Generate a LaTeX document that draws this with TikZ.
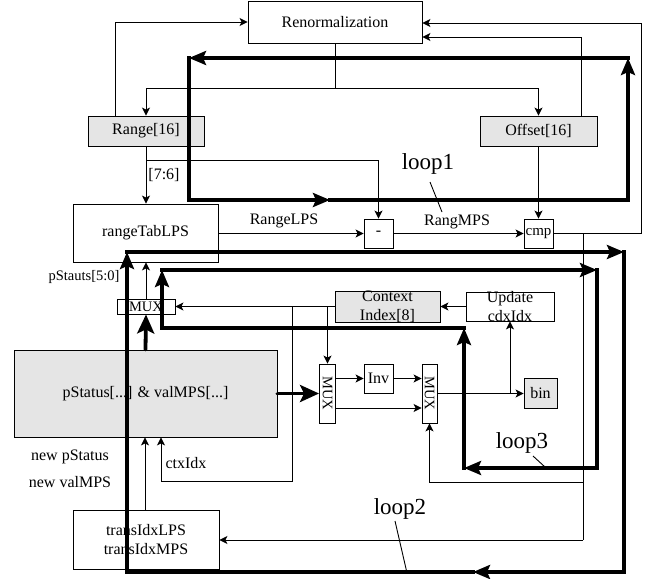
\documentclass[tikz,border=0pt]{standalone}
\usepackage{fontspec}
\setmainfont{Liberation Serif}
\usetikzlibrary{arrows.meta}
\begin{document}
\begin{tikzpicture}[x=1pt,y=-1pt,
  every node/.style={font=\fontsize{16pt}{19pt}\selectfont, inner sep=0pt},
  ln/.style={line width=0.9pt},
  arr/.style={ln, -{Stealth[length=8pt,width=8pt,inset=2pt]}},
  lp/.style={line width=3.8pt, line cap=rect},
  lparr/.style={lp, -{Stealth[length=17pt,width=14pt,inset=3pt]}},
  fatarr/.style={line width=3.8pt, line cap=round, -{Stealth[length=19pt,width=17pt,inset=4pt]}},
  box/.style={draw, line width=0.9pt, inner sep=0pt, align=center},
  gbox/.style={box, fill=gray!20},
  small/.style={font=\fontsize{14.5pt}{16pt}\selectfont},
  big/.style={font=\fontsize{23pt}{26pt}\selectfont}]
\useasboundingbox (0,0) rectangle (655,578);

% boxes
\node[box, minimum width=174pt, minimum height=42pt] (renorm) at (335,22) {Renormalization};
\node[gbox, minimum width=116pt, minimum height=30pt] (range) at (146,131) {Range[16]};
\node[gbox, minimum width=117pt, minimum height=30pt] (offset) at (538.5,131) {Offset[16]};
\node[box, minimum width=145pt, minimum height=58pt] (rtab) at (145.5,233) {rangeTabLPS};
\node[box, minimum width=29pt, minimum height=29pt] (minus) at (378.5,233.5) {-};
\node[box, minimum width=29pt, minimum height=29pt, font=\fontsize{15pt}{17pt}\selectfont] (cmp) at (538.5,233.5) {cmp};
\node[box, small, minimum width=58pt, minimum height=15pt] (mux0) at (146,306.5) {MUX};
\node[gbox, minimum width=105pt, minimum height=31pt] (ctx) at (387.5,306.5) {};
\node[align=center] (ctxt) at (387.5,306.5) {Context\\Index[8]};
\node[box, minimum width=88pt, minimum height=29pt] (upd) at (510,306.5) {};
\node[align=center] (updt) at (510,306.5) {Update\\cdxIdx};
\node[gbox, minimum width=263pt, minimum height=87pt] (pst) at (145.5,393.5) {pStatus[...] \& valMPS[...]};
\node[box, minimum width=16pt, minimum height=59pt] (mux1) at (327.5,393.5) {};
\node[small, rotate=-90] (mux1t) at (mux1) {MUX};
\node[box, minimum width=29pt, minimum height=29pt] (inv) at (378.5,378.5) {Inv};
\node[box, minimum width=15pt, minimum height=59pt] (mux2) at (429.5,393.5) {};
\node[small, rotate=-90] (mux2t) at (mux2) {MUX};
\node[gbox, minimum width=33pt, minimum height=30pt] (bin) at (540.5,393) {bin};
\node[box, minimum width=146pt, minimum height=59pt, align=center] (tidx) at (146,539.5) {transIdxLPS\\transIdxMPS};

% labels
\node (l76) at (164,175) {[7:6]};
\node (lrl) at (284,221) {RangeLPS};
\node (lrm) at (457,222) {RangMPS};
\node[small] (lps) at (84,277) {pStauts[5:0]};
\node (lnp) at (70,457) {new pStatus};
\node (lnv) at (70,482) {new valMPS};
\node (lctx) at (186,463) {ctxIdx};
\node[big] (lp1) at (428,164) {loop1};
\node[big] (lp3) at (522,443) {loop3};
\node[big] (lp2) at (400,509) {loop2};

% coordinates
\coordinate (j1) at (335,88);
\coordinate (j2) at (146,160);
\coordinate (j3) at (327.5,306.5);
\coordinate (j4) at (292,306.5);
\coordinate (j4b) at (161,481);
\coordinate (j5) at (510,393.5);
\coordinate (c641) at (641,233.5);
\coordinate (j6) at (583,233.5);
\coordinate (j6b) at (583,540);
\coordinate (j7) at (583,482);

% thin connectors
\draw[arr] ([xshift=-31pt]range.north) |- (renorm.west);
\draw[ln] (renorm.south) -- (j1);
\draw[arr] (j1) -| (range.north);
\draw[arr] (j1) -| (offset.north);
\draw[arr] ([xshift=42.5pt]offset.north) |- ([yshift=-15pt]renorm.east);
\draw[ln] (cmp.east) -- (c641);
\draw[arr] (c641) |- ([yshift=-1pt]renorm.east);
\draw[arr] (range.south) -- (range.south |- rtab.north);
\draw[arr] (j2) -| (minus.north);
\draw[arr] (offset.south) -- (cmp.north);
\draw[arr] (rtab.east |- minus.west) -- (minus.west);
\draw[arr] (minus.east) -- (cmp.west);
\draw[arr] (mux0.north) -- (mux0.north |- rtab.south);
\draw[arr] (ctx.west) -- (mux0.east);
\draw[arr] (j3) -- (mux1.north);
\draw[ln] (j4) |- (j4b);
\draw[arr] (j4b) -- (j4b |- pst.south);
\draw[arr] (mux1.east |- inv.west) -- (inv.west);
\draw[arr] (inv.east) -- (mux2.west |- inv.east);
\draw[arr] ([yshift=-14.5pt]mux1.east) -- ([yshift=-14.5pt]mux2.west);
\draw[arr] (mux2.east) -- (bin.west |- mux2.east);
\draw[arr] (j5) -- (upd.south);
\draw[arr] (upd.west) -- (ctx.east);
\draw[ln] (j6) -- (j6b);
\draw[arr] (j6b) -- (tidx.east |- j6b);
\draw[arr] (j7) -| (mux2.south);
\draw[arr] ([xshift=-1pt]tidx.north) -- ([xshift=-1pt]tidx.north |- pst.south);

% fat arrows into MUXes
\draw[fatarr] (pst.north) -- (mux0.south);
\draw[fatarr] (pst.east) -- (mux1.west);

% leaders
\draw[ln] (430,182) -- (442,212);
\draw[ln] (533,456) -- (545,467);
\draw[ln] (395,521) -- (407,573);

% loop1
\coordinate (a1) at (189,58);
\coordinate (a2) at (628,58);
\coordinate (a3) at (628,200);
\coordinate (a4) at (189,200);
\coordinate (a5) at (330,200);
\draw[lp] (a1) -- (a4);
\draw[lparr] (a4) -- (a5);
\draw[lp] (a5) -- (a3);
\draw[lparr] (a3) -- (a2);
\draw[lparr] (a2) -- (a1);

% loop2
\coordinate (b1) at (127,252);
\coordinate (b2) at (624,252);
\coordinate (b3) at (624,572);
\coordinate (b4) at (127,572);
\coordinate (b5) at (473,572);
\draw[lparr] (b1) -- (b2);
\draw[lp] (b2) -- (b3);
\draw[lparr] (b3) -- (b5);
\draw[lp] (b5) -- (b4);
\draw[lparr] (b4) -- (b1);

% loop3
\coordinate (d1) at (162,270);
\coordinate (d2) at (597,270);
\coordinate (d3) at (597,468);
\coordinate (d4) at (464,468);
\coordinate (d5) at (464,328);
\coordinate (d6) at (162,328);
\draw[lp] (d5) -- (d6);
\draw[lparr] (d6) -- (d1);
\draw[lparr] (d1) -- (d2);
\draw[lp] (d2) -- (d3);
\draw[lparr] (d3) -- (d4);
\draw[lparr] (d4) -- (d5);
\end{tikzpicture}
\end{document}
